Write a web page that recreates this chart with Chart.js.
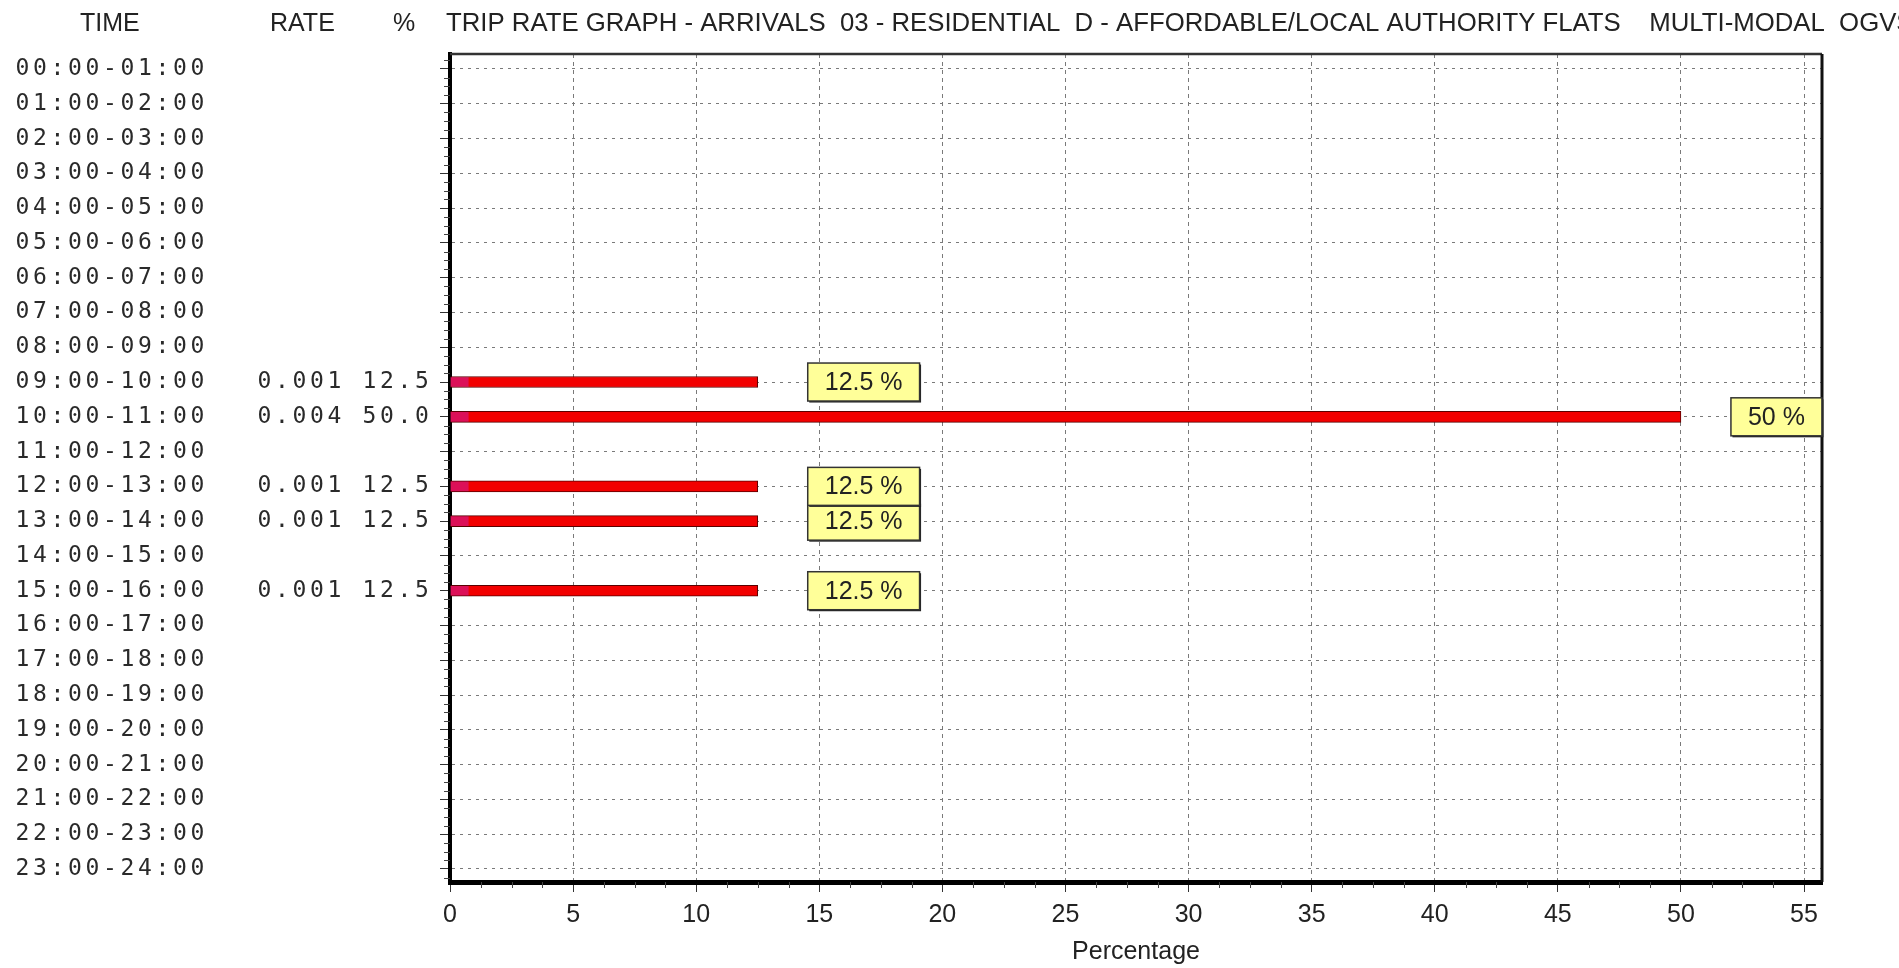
<!DOCTYPE html>
<html>
<head>
<meta charset="utf-8">
<style>
  html, body { margin: 0; padding: 0; background: #fff; }
  #wrap { width: 1899px; height: 968px; }
</style>
<script src="https://cdn.jsdelivr.net/npm/chart.js@4.4.0/dist/chart.umd.min.js"></script>
</head>
<body>
<div id="wrap"><canvas id="graph" width="1899" height="968"></canvas></div>
<script>
// values
const hours = [
  '00:00-01:00', '01:00-02:00', '02:00-03:00', '03:00-04:00', '04:00-05:00', '05:00-06:00',
  '06:00-07:00', '07:00-08:00', '08:00-09:00', '09:00-10:00', '10:00-11:00', '11:00-12:00',
  '12:00-13:00', '13:00-14:00', '14:00-15:00', '15:00-16:00', '16:00-17:00', '17:00-18:00',
  '18:00-19:00', '19:00-20:00', '20:00-21:00', '21:00-22:00', '22:00-23:00', '23:00-24:00'
];
const rates = [null, null, null, null, null, null, null, null, null, 0.001, 0.004, null,
  0.001, 0.001, null, 0.001, null, null, null, null, null, null, null, null];
const percents = [0, 0, 0, 0, 0, 0, 0, 0, 0, 12.5, 50.0, 0,
  12.5, 12.5, 0, 12.5, 0, 0, 0, 0, 0, 0, 0, 0];
const xTicks = [0, 5, 10, 15, 20, 25, 30, 35, 40, 45, 50, 55];
const headings = ['TIME', 'RATE', '%'];
const title = 'TRIP RATE GRAPH - ARRIVALS  03 - RESIDENTIAL  D - AFFORDABLE/LOCAL AUTHORITY FLATS    MULTI-MODAL  OGVS';
const xTitle = 'Percentage';

// layout
const headLeft = [80, 270, 393];
const titleLeft = 446;
const SANS = '"Liberation Sans", Arial, sans-serif';
const MONO = '"DejaVu Sans Mono", "Liberation Mono", monospace';
const PITCH = 17.5;

const points = percents.map((v, i) => ({ x: v, y: i })).filter(p => p.x > 0);

function drawMono(ctx, text, x, y) {
  for (let k = 0; k < text.length; k++) {
    ctx.fillText(text[k], x + k * PITCH, y);
  }
}

const tripPlugin = {
  id: 'trip',
  afterDatasetsDraw(chart) {
    const { ctx, chartArea: a } = chart;
    const xs = chart.scales.x, ys = chart.scales.y;

    // frame top and right
    ctx.save();
    ctx.strokeStyle = '#333';
    ctx.lineWidth = 2.5;
    ctx.beginPath();
    ctx.moveTo(a.left, a.top);
    ctx.lineTo(a.right, a.top);
    ctx.stroke();
    ctx.strokeStyle = '#111';
    ctx.lineWidth = 3;
    ctx.beginPath();
    ctx.moveTo(a.right, a.top);
    ctx.lineTo(a.right, a.bottom);
    ctx.stroke();

    // minor ticks
    ctx.strokeStyle = '#444';
    ctx.lineWidth = 1;
    ctx.beginPath();
    for (let v = 1.25; v < xs.max; v += 1.25) {
      if (Math.abs(v % 5) < 0.01) continue;
      const px = Math.round(xs.getPixelForValue(v)) + 0.5;
      ctx.moveTo(px, a.bottom);
      ctx.lineTo(px, a.bottom + 6);
    }
    for (let v = Math.ceil(ys.min * 4) / 4; v <= ys.max; v += 0.25) {
      if (Math.abs(v - Math.round(v)) < 0.01) continue;
      const py = Math.round(ys.getPixelForValue(v)) + 0.5;
      ctx.moveTo(a.left - 6, py);
      ctx.lineTo(a.left, py);
    }
    ctx.stroke();
    ctx.restore();

    // value labels, lower rows first so upper boxes sit on top
    const meta = chart.getDatasetMeta(0);
    ctx.save();
    ctx.font = '25px ' + SANS;
    ctx.textBaseline = 'middle';
    ctx.textAlign = 'center';
    for (let j = meta.data.length - 1; j >= 0; j--) {
      const el = meta.data[j];
      const txt = points[j].x + ' %';
      const w = ctx.measureText(txt).width + 34;
      const h = 38;
      const x0 = el.x + 50, y0 = el.y - h / 2;
      ctx.fillStyle = '#222';
      ctx.fillRect(x0 + 1.5, y0 + 1.5, w, h);
      ctx.fillStyle = '#ffff99';
      ctx.fillRect(x0, y0, w, h);
      ctx.strokeStyle = '#333';
      ctx.lineWidth = 1.5;
      ctx.strokeRect(x0, y0, w, h);
      ctx.fillStyle = '#222';
      ctx.fillText(txt, x0 + w / 2, el.y + 1);
    }
    ctx.restore();

    // left columns
    ctx.save();
    ctx.fillStyle = '#2a2a2a';
    ctx.font = '23px ' + MONO;
    ctx.textBaseline = 'middle';
    ctx.textAlign = 'center';
    hours.forEach((h, i) => {
      const y = ys.getPixelForValue(i);
      drawMono(ctx, h, 22.5, y);
      if (rates[i] !== null) {
        drawMono(ctx, rates[i].toFixed(3) + ' ' + percents[i].toFixed(1), 264.5, y);
      }
    });
    ctx.restore();

    // headings
    ctx.save();
    ctx.fillStyle = '#222';
    ctx.font = '25px ' + SANS;
    ctx.textBaseline = 'middle';
    ctx.textAlign = 'left';
    headings.forEach((t, k) => ctx.fillText(t, headLeft[k], 24));
    ctx.translate(titleLeft, 24);
    ctx.scale(1.03, 1);
    ctx.fillText(title, 0, 0);
    ctx.restore();
  }
};

const barFill = (c) => {
  const a = c.chart.chartArea;
  if (!a) return '#f00000';
  const g = c.chart.ctx.createLinearGradient(a.left, 0, a.left + 30, 0);
  g.addColorStop(0, '#dc1058');
  g.addColorStop(0.6, '#dc1058');
  g.addColorStop(0.64, '#f20000');
  g.addColorStop(1, '#f20000');
  return g;
};

new Chart(document.getElementById('graph').getContext('2d'), {
  type: 'bar',
  data: {
    datasets: [{
      data: points,
      backgroundColor: barFill,
      borderColor: '#5a0000',
      borderWidth: 1,
      barThickness: 11
    }]
  },
  options: {
    indexAxis: 'y',
    responsive: false,
    animation: false,
    layout: { padding: { top: 54, right: 77, left: 0, bottom: 0 } },
    plugins: { legend: { display: false }, tooltip: { enabled: false } },
    scales: {
      x: {
        type: 'linear',
        min: 0,
        max: 55.73,
        afterBuildTicks: s => { s.ticks = xTicks.map(v => ({ value: v })); },
        afterFit: s => { s.height = 86; },
        grid: { color: '#7a7a7a', tickColor: '#333', tickLength: 10, lineWidth: 1 },
        border: { color: '#000', width: 5, dash: [4, 4] },
        ticks: { font: { family: SANS, size: 25 }, color: '#222', padding: 8, maxRotation: 0, autoSkip: false },
        title: { display: true, text: xTitle, font: { family: SANS, size: 25 }, color: '#222', padding: { top: 0, bottom: 1 } }
      },
      y: {
        type: 'linear',
        reverse: true,
        offset: false,
        min: -0.431,
        max: 23.374,
        afterBuildTicks: s => { s.ticks = hours.map((_, i) => ({ value: i })); },
        afterFit: s => { s.width = 450; },
        grid: { offset: false, color: '#7a7a7a', tickColor: '#333', tickLength: 10 },
        border: { color: '#000', width: 4, dash: [3, 5] },
        ticks: { display: false }
      }
    }
  },
  plugins: [tripPlugin]
});
</script>
</body>
</html>
